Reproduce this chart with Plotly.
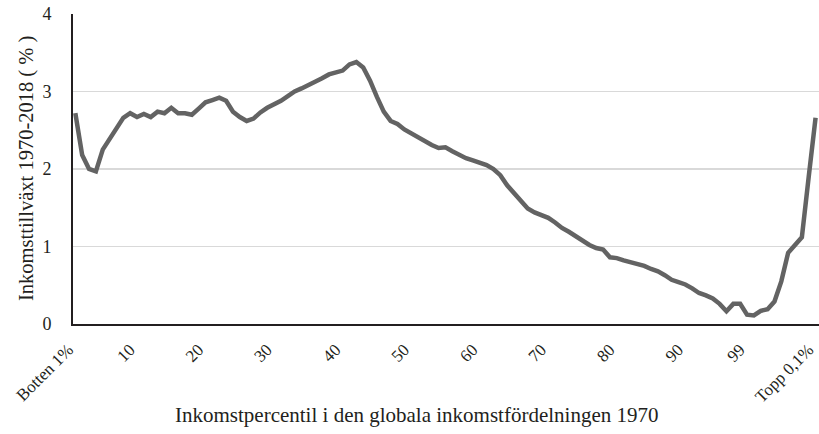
import plotly.graph_objects as go

percentile_index = list(range(1, 110))
growth = [
    2.72, 2.18, 2.00, 1.97, 2.25, 2.38, 2.52, 2.66, 2.72, 2.67,
    2.71, 2.67, 2.74, 2.72, 2.79, 2.72, 2.72, 2.70, 2.78, 2.86,
    2.89, 2.92, 2.88, 2.74, 2.67, 2.62, 2.65, 2.73, 2.79, 2.83,
    2.88, 2.94, 3.00, 3.04, 3.08, 3.12, 3.17, 3.22, 3.24, 3.27,
    3.35, 3.38, 3.31, 3.14, 2.93, 2.74, 2.62, 2.58, 2.51, 2.46,
    2.40, 2.36, 2.31, 2.27, 2.28, 2.23, 2.18, 2.14, 2.11, 2.08,
    2.05, 2.00, 1.92, 1.79, 1.69, 1.59, 1.49, 1.44, 1.41, 1.37,
    1.31, 1.24, 1.19, 1.13, 1.07, 1.02, 0.98, 0.96, 0.86, 0.85,
    0.82, 0.80, 0.77, 0.75, 0.71, 0.68, 0.63, 0.57, 0.54, 0.51,
    0.46, 0.40, 0.37, 0.33, 0.26, 0.165, 0.26, 0.26, 0.12, 0.11,
    0.17, 0.19, 0.29, 0.55, 0.92, 1.02, 1.12, 1.90, 2.66,
]
tick_positions = [1, 10, 20, 30, 40, 50, 60, 70, 80, 90, 99, 109]
tick_labels = ["Botten 1%", "10", "20", "30", "40", "50", "60", "70", "80", "90", "99", "Topp 0,1%"]
y_ticks = [0, 1, 2, 3, 4]
x_title = "Inkomstpercentil i den globala inkomstfördelningen 1970"
y_title = "Inkomsttillväxt 1970-2018 ( % )"

FONT = "Liberation Serif"
TEXT_COLOR = "#231f20"
AXIS_COLOR = "#231f20"

fig = go.Figure()
fig.add_trace(go.Scatter(
    x=percentile_index, y=growth, mode="lines",
    line=dict(color="#636363", width=4.5),
    hoverinfo="skip", showlegend=False,
))

fig.update_layout(
    width=819, height=434,
    margin=dict(l=73, r=0, t=13.5, b=109.5, autoexpand=False),
    paper_bgcolor="white", plot_bgcolor="white",
    font=dict(family=FONT, color=TEXT_COLOR),
    showlegend=False,
)
fig.update_xaxes(
    range=[0.66, 109.5], automargin=False,
    tickmode="array", tickvals=tick_positions, ticktext=tick_labels,
    tickangle=-45, tickfont=dict(family=FONT, size=17, color=TEXT_COLOR),
    ticklabeloverflow="allow", ticklabelshift=-7,
    showgrid=False, zeroline=False,
    showline=True, linecolor=AXIS_COLOR, linewidth=2,
    ticks="outside", ticklen=7, tickcolor="rgba(0,0,0,0)",
)
fig.update_yaxes(
    range=[0, 4], automargin=False,
    tickmode="array", tickvals=y_ticks,
    tickfont=dict(family=FONT, size=18, color=TEXT_COLOR),
    ticklabeloverflow="allow",
    showgrid=True, gridcolor="#d9d9d9", gridwidth=1.3,
    zeroline=False,
    showline=True, linecolor=AXIS_COLOR, linewidth=2,
    ticks="outside", ticklen=16, tickcolor="rgba(0,0,0,0)",
)
fig.add_annotation(
    text=x_title, xref="paper", yref="paper", x=0.461, y=-0.294,
    xanchor="center", yanchor="middle", showarrow=False,
    font=dict(family=FONT, size=21, color=TEXT_COLOR),
)
fig.add_annotation(
    text=y_title, xref="paper", yref="paper", x=-0.063, y=0.5,
    xanchor="center", yanchor="middle", showarrow=False, textangle=-90,
    font=dict(family=FONT, size=20.5, color=TEXT_COLOR),
)

fig.write_html(
    "out.html",
    config={"displayModeBar": False, "staticPlot": True},
    post_script="document.body.style.margin='0';document.body.style.padding='0';",
)
